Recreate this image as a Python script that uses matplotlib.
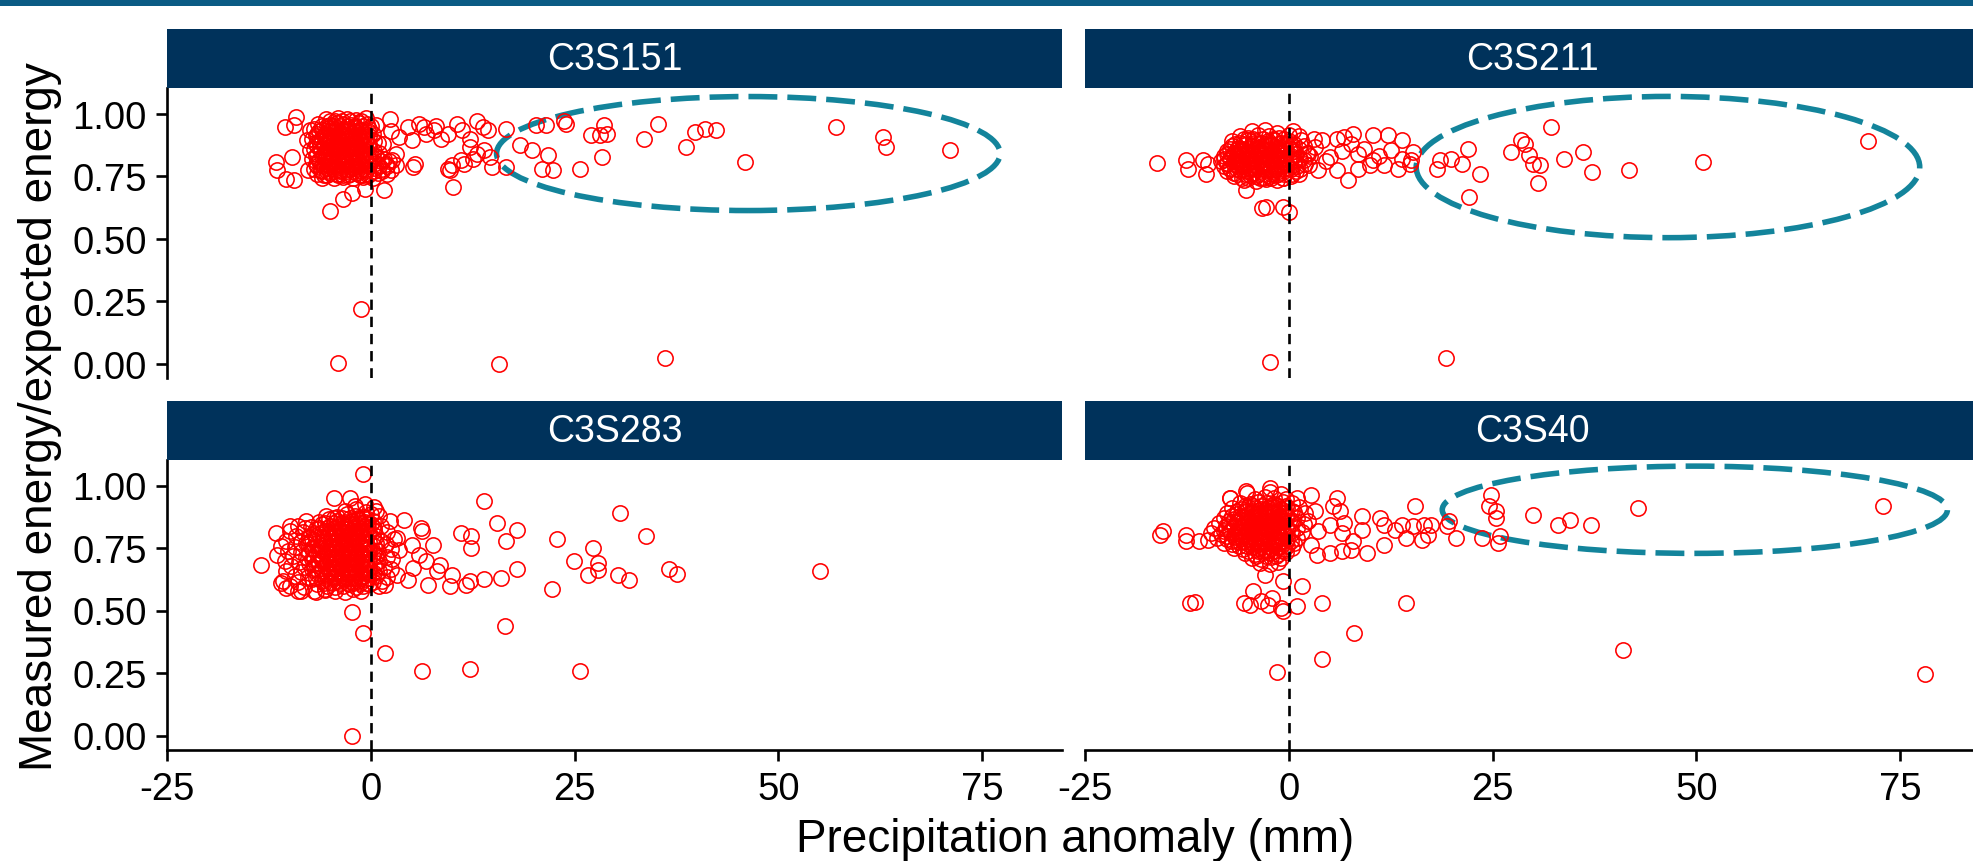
import numpy as np
import matplotlib
matplotlib.use('Agg')
import matplotlib.pyplot as plt
from matplotlib.patches import Ellipse, Rectangle

plt.rcParams['font.family'] = ['Liberation Sans', 'DejaVu Sans']

# ---- data: (precip anomaly mm, measured/expected energy) ----
stations = ["C3S151", "C3S211", "C3S283", "C3S40"]

c3s151_core = [
    (-5.5, 0.98), (-4.0, 0.985), (-3.0, 0.98), (-1.8, 0.975), (-0.6, 0.985),
    (-6.5, 0.96), (-5.0, 0.955), (-4.2, 0.965), (-3.4, 0.96), (-2.5, 0.955), (-1.5, 0.965), (-0.5, 0.96), (0.6, 0.955),
    (-7.0, 0.94), (-6.0, 0.935), (-5.2, 0.945), (-4.4, 0.94), (-3.6, 0.935), (-2.8, 0.94), (-2.0, 0.945), (-1.2, 0.935), (-0.3, 0.94),
    (-6.6, 0.92), (-5.6, 0.915), (-4.8, 0.925), (-4.0, 0.92), (-3.2, 0.915), (-2.4, 0.92), (-1.6, 0.925), (-0.8, 0.915), (0.2, 0.92),
    (-7.2, 0.90), (-6.2, 0.895), (-5.4, 0.905), (-4.6, 0.90), (-3.8, 0.895), (-3.0, 0.90), (-2.2, 0.905), (-1.4, 0.895), (-0.6, 0.90),
    (-6.8, 0.88), (-5.8, 0.875), (-5.0, 0.885), (-4.2, 0.88), (-3.4, 0.875), (-2.6, 0.88), (-1.8, 0.885), (-1.0, 0.875), (-0.2, 0.88), (0.8, 0.885),
    (-7.0, 0.86), (-6.2, 0.855), (-5.4, 0.865), (-4.6, 0.86), (-3.8, 0.855), (-3.0, 0.86), (-2.2, 0.865), (-1.4, 0.855), (-0.6, 0.86),
    (-6.6, 0.84), (-5.8, 0.835), (-5.0, 0.845), (-4.2, 0.84), (-3.4, 0.835), (-2.6, 0.84), (-1.8, 0.845), (-1.0, 0.835), (-0.2, 0.84), (1.0, 0.845),
    (-7.2, 0.82), (-6.4, 0.815), (-5.6, 0.825), (-4.8, 0.82), (-4.0, 0.815), (-3.2, 0.82), (-2.4, 0.825), (-1.6, 0.815), (-0.8, 0.82), (0.2, 0.825), (1.6, 0.82), (2.6, 0.815),
    (-6.8, 0.80), (-6.0, 0.795), (-5.2, 0.805), (-4.4, 0.80), (-3.6, 0.795), (-2.8, 0.80), (-2.0, 0.805), (-1.2, 0.795), (-0.4, 0.80), (0.6, 0.805), (1.8, 0.80), (3.0, 0.795),
    (-7.0, 0.78), (-6.2, 0.775), (-5.4, 0.785), (-4.6, 0.78), (-3.8, 0.775), (-3.0, 0.78), (-2.2, 0.785), (-1.4, 0.775), (-0.6, 0.78), (0.4, 0.785), (1.4, 0.78), (2.4, 0.775),
    (-6.6, 0.76), (-5.8, 0.755), (-5.0, 0.765), (-4.2, 0.76), (-3.4, 0.755), (-2.6, 0.76), (-1.8, 0.765), (-1.0, 0.755), (-0.2, 0.76), (0.8, 0.765), (2.0, 0.76),
    (-6.0, 0.745), (-4.6, 0.742), (-3.4, 0.748), (-2.2, 0.744), (-1.0, 0.746), (0.2, 0.742),
]
# extra overlapping points inside the solid core: (y, [x, ...])
c3s151_fill = [
    (0.97, [-5.0, -4.4, -3.6, -2.6, -1.2]),
    (0.95, [-6.0, -5.4, -4.6, -3.8, -3.0, -2.0, -1.0, 0.0]),
    (0.93, [-6.4, -5.2, -4.4, -3.6, -2.8, -2.0, -1.2, -0.4]),
    (0.91, [-6.8, -5.8, -5.0, -4.2, -3.4, -2.6, -1.8, -1.0, -0.2]),
    (0.89, [-6.4, -5.4, -4.6, -3.8, -3.0, -2.2, -1.4, -0.6, 0.3]),
    (0.87, [-6.6, -5.8, -5.0, -4.2, -3.4, -2.6, -1.8, -1.0, -0.2]),
    (0.85, [-6.2, -5.4, -4.6, -3.8, -3.0, -2.2, -1.4, -0.6, 0.4]),
    (0.83, [-6.8, -6.0, -5.2, -4.4, -3.6, -2.8, -2.0, -1.2, -0.4, 0.6]),
    (0.81, [-6.4, -5.6, -4.8, -4.0, -3.2, -2.4, -1.6, -0.8, 0.0, 1.2, 2.2]),
    (0.79, [-6.6, -5.8, -5.0, -4.2, -3.4, -2.6, -1.8, -1.0, -0.2, 1.0, 2.0]),
    (0.77, [-6.2, -5.4, -4.6, -3.8, -3.0, -2.2, -1.4, -0.6, 0.4, 1.4]),
    (0.755, [-5.4, -4.0, -2.8, -1.4, -0.4]),
]
c3s151_spread = [
    (-4.0, 0.005), (15.7, 0.0), (36.1, 0.025), (-1.2, 0.22),
    (-5.0, 0.61), (-3.4, 0.66), (-2.3, 0.685), (-0.7, 0.70), (1.6, 0.695), (10.1, 0.706),
    (-11.7, 0.808), (-11.5, 0.775), (-10.4, 0.741), (-9.5, 0.735), (-9.7, 0.828), (-10.6, 0.947),
    (-9.2, 0.987), (-9.5, 0.954), (-7.5, 0.934), (-7.9, 0.894), (-7.7, 0.775), (-7.5, 0.854),
    (2.3, 0.98), (3.4, 0.907), (4.5, 0.947), (5.9, 0.96), (6.5, 0.947), (5.0, 0.894), (7.7, 0.934),
    (8.55, 0.90), (9.4, 0.92), (10.55, 0.96), (11.2, 0.934), (12.1, 0.90), (13.0, 0.973), (13.7, 0.947),
    (14.3, 0.934), (12.1, 0.867), (13.0, 0.841), (13.9, 0.854), (14.55, 0.828), (14.8, 0.788),
    (12.55, 0.821), (11.0, 0.815), (9.9, 0.795), (9.4, 0.781), (9.65, 0.775), (11.4, 0.801),
    (5.4, 0.801), (5.2, 0.788), (2.5, 0.93), (1.5, 0.88), (3.0, 0.84), (6.8, 0.92), (8.0, 0.95),
    (16.55, 0.94), (16.55, 0.788), (18.3, 0.874), (19.7, 0.854), (20.3, 0.954), (21.45, 0.954),
    (21.7, 0.834), (21.0, 0.781), (22.3, 0.775), (23.7, 0.973), (23.9, 0.96), (25.7, 0.781),
    (27.0, 0.914), (28.1, 0.914), (29.0, 0.92), (28.6, 0.954), (28.3, 0.828), (33.5, 0.90),
    (35.2, 0.96), (38.6, 0.867), (39.7, 0.927), (41.0, 0.94), (42.35, 0.934), (45.9, 0.808),
    (57.1, 0.947), (62.8, 0.907), (63.2, 0.867), (71.1, 0.854),
]

c3s211_core = [
    (-4.5, 0.93), (-3.0, 0.935), (-1.5, 0.925), (0.5, 0.93),
    (-6.0, 0.91), (-5.0, 0.905), (-3.8, 0.915), (-2.5, 0.91), (-1.2, 0.905), (0.0, 0.915), (1.2, 0.91),
    (-7.0, 0.89), (-6.0, 0.885), (-5.0, 0.895), (-4.2, 0.89), (-3.4, 0.885), (-2.6, 0.89), (-1.8, 0.895), (-1.0, 0.885), (0.0, 0.89), (1.5, 0.895),
    (-7.0, 0.87), (-6.2, 0.865), (-5.4, 0.875), (-4.6, 0.87), (-3.8, 0.865), (-3.0, 0.87), (-2.2, 0.875), (-1.4, 0.865), (-0.6, 0.87), (0.4, 0.875), (1.8, 0.87),
    (-7.6, 0.85), (-6.8, 0.845), (-6.0, 0.855), (-5.2, 0.85), (-4.4, 0.845), (-3.6, 0.85), (-2.8, 0.855), (-2.0, 0.845), (-1.2, 0.85), (-0.4, 0.855), (0.6, 0.85), (2.2, 0.845),
    (-8.0, 0.83), (-7.2, 0.825), (-6.4, 0.835), (-5.6, 0.83), (-4.8, 0.825), (-4.0, 0.83), (-3.2, 0.835), (-2.4, 0.825), (-1.6, 0.83), (-0.8, 0.835), (0.2, 0.83), (1.2, 0.825), (2.6, 0.83),
    (-8.4, 0.81), (-7.6, 0.805), (-6.8, 0.815), (-6.0, 0.81), (-5.2, 0.805), (-4.4, 0.81), (-3.6, 0.815), (-2.8, 0.805), (-2.0, 0.81), (-1.2, 0.815), (-0.4, 0.805), (0.6, 0.81), (1.8, 0.815),
    (-8.0, 0.79), (-7.2, 0.785), (-6.4, 0.795), (-5.6, 0.79), (-4.8, 0.785), (-4.0, 0.79), (-3.2, 0.795), (-2.4, 0.785), (-1.6, 0.79), (-0.8, 0.795), (0.0, 0.785), (1.0, 0.79), (2.4, 0.795),
    (-7.6, 0.77), (-6.8, 0.765), (-6.0, 0.775), (-5.2, 0.77), (-4.4, 0.765), (-3.6, 0.77), (-2.8, 0.775), (-2.0, 0.765), (-1.2, 0.77), (-0.4, 0.775), (0.8, 0.77),
    (-6.8, 0.75), (-5.8, 0.745), (-4.8, 0.755), (-4.0, 0.75), (-3.2, 0.745), (-2.4, 0.75), (-1.6, 0.755), (-0.8, 0.745), (0.2, 0.75),
    (-5.5, 0.735), (-4.0, 0.732), (-2.8, 0.738), (-1.5, 0.734),
]
c3s211_fill = [
    (0.90, [-5.5, -4.4, -3.2, -2.0, -0.6]),
    (0.88, [-6.6, -5.6, -4.6, -3.8, -3.0, -2.2, -1.4, -0.6, 0.6]),
    (0.86, [-7.2, -6.4, -5.6, -4.8, -4.0, -3.2, -2.4, -1.6, -0.8, 0.2, 1.2]),
    (0.84, [-7.6, -6.8, -6.0, -5.2, -4.4, -3.6, -2.8, -2.0, -1.2, -0.4, 0.8]),
    (0.82, [-8.0, -7.2, -6.4, -5.6, -4.8, -4.0, -3.2, -2.4, -1.6, -0.8, 0.2, 1.4]),
    (0.80, [-7.6, -6.8, -6.0, -5.2, -4.4, -3.6, -2.8, -2.0, -1.2, -0.4, 0.6]),
    (0.78, [-7.2, -6.4, -5.6, -4.8, -4.0, -3.2, -2.4, -1.6, -0.8, 0.2, 1.4]),
    (0.76, [-6.4, -5.4, -4.6, -3.8, -3.0, -2.2, -1.4, -0.6, 0.4]),
    (0.745, [-5.0, -3.6, -2.2, -0.8]),
]
c3s211_spread = [
    (-16.2, 0.805), (-12.6, 0.814), (-12.4, 0.781), (-10.6, 0.814), (-10.2, 0.761), (-9.9, 0.801),
    (-5.3, 0.695), (-3.3, 0.622), (-2.8, 0.629), (-0.8, 0.629), (0.0, 0.609),
    (4.1, 0.894), (5.9, 0.90), (6.75, 0.907), (7.9, 0.92), (7.6, 0.88), (10.3, 0.914), (12.1, 0.914),
    (13.9, 0.894), (8.5, 0.841), (10.3, 0.815), (12.5, 0.854), (13.9, 0.821), (15.2, 0.848), (15.0, 0.815),
    (7.2, 0.735), (5.9, 0.775), (3.6, 0.775), (8.5, 0.781), (9.9, 0.795), (11.6, 0.795), (13.4, 0.781),
    (2.3, 0.841), (5.0, 0.828), (3.2, 0.867), (1.9, 0.801), (4.5, 0.81), (6.5, 0.85), (9.2, 0.86),
    (11.0, 0.83), (3.0, 0.90), (1.2, 0.76), (14.8, 0.80),
    (18.1, 0.781), (18.5, 0.815), (19.9, 0.821), (21.2, 0.801), (21.9, 0.861), (23.4, 0.761), (22.1, 0.669),
    (27.2, 0.848), (28.5, 0.894), (29.0, 0.881), (29.4, 0.834), (29.9, 0.801), (30.8, 0.795), (30.5, 0.722),
    (32.1, 0.947), (33.7, 0.821), (36.1, 0.848), (37.2, 0.768), (41.7, 0.777), (50.8, 0.808), (71.0, 0.89),
    (-2.3, 0.006), (19.3, 0.022),
]

c3s283_core = [
    (-2.0, 0.92), (-0.8, 0.925), (0.4, 0.915),
    (-3.2, 0.90), (-1.8, 0.905), (-0.6, 0.895), (0.6, 0.90),
    (-5.5, 0.88), (-4.2, 0.875), (-3.0, 0.885), (-2.0, 0.88), (-1.0, 0.875), (0.0, 0.885), (1.0, 0.88),
    (-8.0, 0.86), (-6.4, 0.855), (-5.2, 0.865), (-4.2, 0.86), (-3.2, 0.855), (-2.4, 0.86), (-1.6, 0.865), (-0.8, 0.855), (0.2, 0.86),
    (-9.0, 0.84), (-7.4, 0.835), (-6.0, 0.845), (-5.0, 0.84), (-4.0, 0.835), (-3.2, 0.84), (-2.4, 0.845), (-1.6, 0.835), (-0.8, 0.84), (0.0, 0.845), (1.2, 0.84),
    (-10.0, 0.82), (-8.4, 0.815), (-6.8, 0.825), (-5.6, 0.82), (-4.6, 0.815), (-3.8, 0.82), (-3.0, 0.825), (-2.2, 0.815), (-1.4, 0.82), (-0.6, 0.825), (0.4, 0.82), (2.0, 0.815),
    (-9.2, 0.80), (-7.6, 0.795), (-6.4, 0.805), (-5.4, 0.80), (-4.4, 0.795), (-3.6, 0.80), (-2.8, 0.805), (-2.0, 0.795), (-1.2, 0.80), (-0.4, 0.805), (0.6, 0.80),
    (-10.4, 0.78), (-8.6, 0.775), (-7.2, 0.785), (-6.0, 0.78), (-5.0, 0.775), (-4.2, 0.78), (-3.4, 0.785), (-2.6, 0.775), (-1.8, 0.78), (-1.0, 0.785), (-0.2, 0.775), (1.2, 0.78), (2.8, 0.785),
    (-11.0, 0.76), (-9.4, 0.755), (-7.8, 0.765), (-6.6, 0.76), (-5.6, 0.755), (-4.6, 0.76), (-3.8, 0.765), (-3.0, 0.755), (-2.2, 0.76), (-1.4, 0.765), (-0.6, 0.755), (0.4, 0.76), (1.8, 0.765),
    (-10.2, 0.74), (-8.6, 0.735), (-7.2, 0.745), (-6.0, 0.74), (-5.0, 0.735), (-4.2, 0.74), (-3.4, 0.745), (-2.6, 0.735), (-1.8, 0.74), (-1.0, 0.745), (-0.2, 0.735), (0.8, 0.74), (2.4, 0.745),
    (-9.6, 0.72), (-8.0, 0.715), (-6.6, 0.725), (-5.4, 0.72), (-4.4, 0.715), (-3.6, 0.72), (-2.8, 0.725), (-2.0, 0.715), (-1.2, 0.72), (-0.4, 0.725), (0.6, 0.72), (2.0, 0.715),
    (-10.6, 0.70), (-8.8, 0.695), (-7.2, 0.705), (-6.0, 0.70), (-5.0, 0.695), (-4.2, 0.70), (-3.4, 0.705), (-2.6, 0.695), (-1.8, 0.70), (-1.0, 0.705), (-0.2, 0.695), (1.0, 0.70), (2.6, 0.705),
    (-9.8, 0.68), (-8.2, 0.675), (-6.8, 0.685), (-5.6, 0.68), (-4.6, 0.675), (-3.8, 0.68), (-3.0, 0.685), (-2.2, 0.675), (-1.4, 0.68), (-0.6, 0.685), (0.4, 0.68), (1.6, 0.675),
    (-10.4, 0.66), (-8.6, 0.655), (-7.2, 0.665), (-6.0, 0.66), (-5.0, 0.655), (-4.2, 0.66), (-3.4, 0.665), (-2.6, 0.655), (-1.8, 0.66), (-1.0, 0.665), (-0.2, 0.655), (1.0, 0.66), (2.4, 0.665),
    (-9.4, 0.64), (-7.8, 0.635), (-6.6, 0.645), (-5.4, 0.64), (-4.4, 0.635), (-3.6, 0.64), (-2.8, 0.645), (-2.0, 0.635), (-1.2, 0.64), (-0.4, 0.645), (0.6, 0.64), (2.0, 0.635),
    (-10.8, 0.62), (-9.0, 0.615), (-7.2, 0.625), (-6.0, 0.62), (-5.0, 0.615), (-4.0, 0.62), (-3.2, 0.625), (-2.4, 0.615), (-1.6, 0.62), (-0.8, 0.625), (0.2, 0.615), (1.4, 0.62),
    (-10.0, 0.60), (-8.2, 0.595), (-6.6, 0.605), (-5.4, 0.60), (-4.4, 0.595), (-3.4, 0.60), (-2.6, 0.605), (-1.8, 0.595), (-1.0, 0.60), (-0.2, 0.605), (1.0, 0.60),
    (-8.6, 0.58), (-6.8, 0.575), (-5.6, 0.585), (-4.4, 0.58), (-3.2, 0.575), (-2.2, 0.585), (-1.2, 0.58),
]
c3s283_fill = [
    (0.87, [-4.6, -3.6, -2.6, -1.6, -0.6]),
    (0.85, [-5.6, -4.6, -3.6, -2.8, -2.0, -1.2, -0.4]),
    (0.83, [-6.4, -5.4, -4.4, -3.6, -2.8, -2.0, -1.2, -0.4, 0.4]),
    (0.81, [-7.0, -6.0, -5.0, -4.2, -3.4, -2.6, -1.8, -1.0, -0.2]),
    (0.79, [-7.6, -6.8, -5.8, -4.8, -4.0, -3.2, -2.4, -1.6, -0.8, 0.2]),
    (0.77, [-8.0, -6.6, -5.4, -4.6, -3.8, -3.0, -2.2, -1.4, -0.6, 0.6]),
    (0.75, [-7.2, -6.0, -5.0, -4.2, -3.4, -2.6, -1.8, -1.0, -0.2]),
    (0.73, [-7.6, -6.4, -5.4, -4.6, -3.8, -3.0, -2.2, -1.4, -0.6, 0.4]),
    (0.71, [-7.0, -6.0, -5.0, -4.2, -3.4, -2.6, -1.8, -1.0, -0.2]),
    (0.69, [-7.6, -6.4, -5.4, -4.6, -3.8, -3.0, -2.2, -1.4, -0.6, 0.6]),
    (0.67, [-7.0, -6.0, -5.0, -4.2, -3.4, -2.6, -1.8, -1.0, -0.2]),
    (0.65, [-6.4, -5.4, -4.6, -3.8, -3.0, -2.2, -1.4, -0.6, 0.4]),
    (0.63, [-6.8, -5.6, -4.6, -3.6, -2.8, -2.0, -1.2, -0.4]),
    (0.61, [-5.8, -4.8, -3.8, -3.0, -2.2, -1.4, -0.6]),
]
c3s283_spread = [
    (-1.0, 1.047), (-4.5, 0.951), (-2.6, 0.951), (-13.5, 0.684), (-11.7, 0.811), (-9.9, 0.837),
    (-8.1, 0.831), (-11.5, 0.724), (-11.0, 0.611), (-10.4, 0.591), (-9.0, 0.577), (-7.0, 0.577), (-5.7, 0.584),
    (2.3, 0.857), (4.1, 0.864), (6.1, 0.831), (6.3, 0.817), (7.65, 0.764), (5.0, 0.764), (3.2, 0.791),
    (3.4, 0.744), (5.9, 0.724), (8.5, 0.684), (8.1, 0.657), (9.9, 0.644), (7.0, 0.604), (9.7, 0.597),
    (11.7, 0.604), (12.1, 0.617), (4.5, 0.624), (3.2, 0.644), (1.65, 0.604), (5.2, 0.671), (6.8, 0.697),
    (11.0, 0.811), (12.3, 0.797), (12.3, 0.751), (13.9, 0.937), (15.4, 0.851), (17.9, 0.824),
    (16.5, 0.777), (17.9, 0.668), (15.9, 0.631), (13.9, 0.628), (16.4, 0.437),
    (22.8, 0.788), (22.25, 0.588), (24.9, 0.697), (27.2, 0.751), (27.8, 0.691), (27.9, 0.664),
    (26.6, 0.644), (30.35, 0.644), (30.6, 0.891), (31.7, 0.624), (33.7, 0.797), (36.6, 0.668),
    (37.5, 0.647), (55.1, 0.657),
    (-2.35, 0.493), (-1.0, 0.411), (1.7, 0.331), (6.2, 0.257), (12.1, 0.267), (25.6, 0.257), (-2.3, -0.003),
]

c3s40_core = [
    (-5.2, 0.97), (-2.4, 0.975), (-1.0, 0.965),
    (-7.2, 0.95), (-4.2, 0.945), (-3.0, 0.955), (-1.8, 0.95), (-0.4, 0.945), (1.0, 0.95),
    (-6.0, 0.93), (-4.8, 0.925), (-3.8, 0.935), (-2.8, 0.93), (-1.8, 0.925), (-0.8, 0.935), (0.4, 0.93),
    (-7.0, 0.91), (-5.8, 0.905), (-5.0, 0.915), (-4.2, 0.91), (-3.4, 0.905), (-2.6, 0.91), (-1.8, 0.915), (-1.0, 0.905), (-0.2, 0.91), (1.2, 0.915),
    (-7.6, 0.89), (-6.4, 0.885), (-5.4, 0.895), (-4.6, 0.89), (-3.8, 0.885), (-3.0, 0.89), (-2.2, 0.895), (-1.4, 0.885), (-0.6, 0.89), (0.6, 0.895), (2.0, 0.89),
    (-8.0, 0.87), (-6.8, 0.865), (-5.8, 0.875), (-5.0, 0.87), (-4.2, 0.865), (-3.4, 0.87), (-2.6, 0.875), (-1.8, 0.865), (-1.0, 0.87), (-0.2, 0.875), (1.0, 0.87),
    (-8.6, 0.85), (-7.4, 0.845), (-6.4, 0.855), (-5.4, 0.85), (-4.6, 0.845), (-3.8, 0.85), (-3.0, 0.855), (-2.2, 0.845), (-1.4, 0.85), (-0.6, 0.855), (0.4, 0.85), (1.8, 0.845),
    (-9.2, 0.83), (-7.8, 0.825), (-6.8, 0.835), (-5.8, 0.83), (-5.0, 0.825), (-4.2, 0.83), (-3.4, 0.835), (-2.6, 0.825), (-1.8, 0.83), (-1.0, 0.835), (-0.2, 0.825), (1.0, 0.83),
    (-9.6, 0.81), (-8.4, 0.805), (-7.2, 0.815), (-6.2, 0.81), (-5.4, 0.805), (-4.6, 0.81), (-3.8, 0.815), (-3.0, 0.805), (-2.2, 0.81), (-1.4, 0.815), (-0.6, 0.805), (0.4, 0.81), (1.6, 0.815),
    (-8.8, 0.79), (-7.6, 0.785), (-6.6, 0.795), (-5.8, 0.79), (-5.0, 0.785), (-4.2, 0.79), (-3.4, 0.795), (-2.6, 0.785), (-1.8, 0.79), (-1.0, 0.795), (-0.2, 0.785), (1.0, 0.79),
    (-8.0, 0.77), (-7.0, 0.765), (-6.0, 0.775), (-5.2, 0.77), (-4.4, 0.765), (-3.6, 0.77), (-2.8, 0.775), (-2.0, 0.765), (-1.2, 0.77), (-0.4, 0.775), (0.6, 0.77),
    (-6.8, 0.75), (-5.6, 0.745), (-4.6, 0.755), (-3.8, 0.75), (-3.0, 0.745), (-2.2, 0.75), (-1.4, 0.755), (-0.6, 0.745), (0.4, 0.75),
    (-5.4, 0.73), (-4.2, 0.725), (-3.2, 0.735), (-2.4, 0.73), (-1.4, 0.725), (-0.4, 0.735),
    (-4.6, 0.71), (-3.4, 0.705), (-2.2, 0.715), (-1.0, 0.71),
    (-3.6, 0.69), (-2.4, 0.685), (-1.4, 0.695),
]
c3s40_fill = [
    (0.92, [-5.4, -4.4, -3.4, -2.4, -1.4, -0.4]),
    (0.90, [-6.4, -5.4, -4.6, -3.8, -3.0, -2.2, -1.4, -0.6, 0.4]),
    (0.88, [-7.0, -6.0, -5.2, -4.4, -3.6, -2.8, -2.0, -1.2, -0.4]),
    (0.86, [-7.4, -6.4, -5.6, -4.8, -4.0, -3.2, -2.4, -1.6, -0.8, 0.2]),
    (0.84, [-7.8, -6.8, -6.0, -5.2, -4.4, -3.6, -2.8, -2.0, -1.2, -0.4]),
    (0.82, [-8.0, -7.2, -6.4, -5.6, -4.8, -4.0, -3.2, -2.4, -1.6, -0.8, 0.2]),
    (0.80, [-7.6, -6.8, -6.0, -5.2, -4.4, -3.6, -2.8, -2.0, -1.2, -0.4]),
    (0.78, [-7.0, -6.4, -5.6, -4.8, -4.0, -3.2, -2.4, -1.6, -0.8, 0.2]),
    (0.76, [-6.2, -5.2, -4.2, -3.4, -2.6, -1.8, -1.0, -0.2]),
    (0.74, [-5.0, -3.8, -2.8, -1.8, -0.8]),
    (0.72, [-4.0, -2.8, -1.6]),
]
c3s40_spread = [
    (-15.9, 0.804), (-15.5, 0.817), (-12.6, 0.777), (-12.6, 0.804), (-11.05, 0.777), (-9.9, 0.784),
    (-12.2, 0.531), (-11.5, 0.535), (-7.3, 0.951), (-5.3, 0.977), (-2.4, 0.99),
    (-3.0, 0.644), (-4.4, 0.577), (-0.8, 0.617), (1.6, 0.597), (-5.5, 0.531), (-4.8, 0.524), (-3.5, 0.537),
    (-2.6, 0.524), (-1.0, 0.511), (-0.8, 0.497), (1.0, 0.517), (-2.15, 0.551), (4.1, 0.531), (14.3, 0.531),
    (2.7, 0.964), (5.9, 0.951), (5.4, 0.917), (6.3, 0.897), (3.2, 0.897), (2.3, 0.857), (3.6, 0.817),
    (5.0, 0.844), (6.75, 0.851), (6.5, 0.811), (9.0, 0.877), (9.0, 0.824), (11.2, 0.871), (11.6, 0.844),
    (13.0, 0.824), (11.6, 0.764), (9.6, 0.731), (7.6, 0.744), (6.5, 0.737), (5.0, 0.731), (3.4, 0.724),
    (2.7, 0.764), (7.9, 0.777), (14.3, 0.791), (13.9, 0.844), (15.4, 0.917), (15.2, 0.837), (16.5, 0.844),
    (17.0, 0.804), (16.3, 0.784), (17.4, 0.844), (19.4, 0.837), (20.5, 0.791), (19.6, 0.857),
    (23.65, 0.791), (24.8, 0.964), (24.5, 0.917), (25.4, 0.897), (25.4, 0.871), (25.9, 0.797), (25.7, 0.771),
    (29.9, 0.884), (33.0, 0.844), (34.5, 0.864), (37.0, 0.844), (42.8, 0.911), (72.9, 0.92),
    (41.0, 0.341), (78.0, 0.248), (4.1, 0.307), (-1.5, 0.253), (8.0, 0.411),
]


def rows_to_points(rows):
    return [(x, y) for y, xs in rows for x in xs]


panel_points = {
    "C3S151": c3s151_core + rows_to_points(c3s151_fill) + c3s151_spread,
    "C3S211": c3s211_core + rows_to_points(c3s211_fill) + c3s211_spread,
    "C3S283": c3s283_core + rows_to_points(c3s283_fill) + c3s283_spread,
    "C3S40": c3s40_core + rows_to_points(c3s40_fill) + c3s40_spread,
}

# highlighted groups: (centre x, centre y, width, height)
highlight = {
    "C3S151": (46.3, 0.841, 61.8, 0.456),
    "C3S211": (46.5, 0.787, 61.8, 0.565),
    "C3S40": (49.8, 0.903, 62.0, 0.349),
}

x_ticks = [-25, 0, 25, 50, 75]
y_ticks = [0.00, 0.25, 0.50, 0.75, 1.00]

# ---- layout (pixels of a 1974 x 862 canvas) ----
W, H = 1974, 862
fig = plt.figure(figsize=(W / 100, H / 100), dpi=100)

strip_col = "#00325b"
ring_col = "#13849b"

# thin banner across the top
fig.patches.append(Rectangle((0, 1 - 7 / H), 1, 7 / H, transform=fig.transFigure,
                             facecolor="#0b5b84", edgecolor="none"))

col_left = [167.4, 1085.4]
panel_w = 894.6
row_top = [89.3, 461.0]
panel_h = 290.0
strip_h = 59.0

for i, name in enumerate(stations):
    r, c = divmod(i, 2)
    x0 = col_left[c] / W
    y0 = 1 - (row_top[r] + panel_h) / H
    ax = fig.add_axes([x0, y0, panel_w / W, panel_h / H])

    pts = np.array(panel_points[name])
    ax.plot(pts[:, 0], pts[:, 1], linestyle="none", marker="o", markersize=11,
            markerfacecolor="none", markeredgecolor="#ff0000", markeredgewidth=1.15)
    ax.axvline(0, color="black", linestyle=(0, (3.9, 2.6)), linewidth=1.9)

    if name in highlight:
        cx, cy, ew, eh = highlight[name]
        ax.add_patch(Ellipse((cx, cy), ew, eh, fill=False, edgecolor=ring_col,
                             linewidth=4.0, linestyle=(0, (5.2, 1.8))))

    ax.set_xlim(-25, 84.8)
    ax.set_ylim(-0.058, 1.102)
    ax.set_xticks(x_ticks)
    ax.set_yticks(y_ticks)
    ax.set_xticklabels([str(t) for t in x_ticks])
    ax.set_yticklabels([f"{t:.2f}" for t in y_ticks])
    for s in ax.spines.values():
        s.set_visible(False)
        s.set_linewidth(1.9)
    ax.tick_params(length=8, width=1.9, pad=7, labelsize=27.5, colors="black")
    if c == 0:
        ax.spines["left"].set_visible(True)
    else:
        ax.tick_params(axis="y", left=False, labelleft=False)
    if r == 1:
        ax.spines["bottom"].set_visible(True)
    else:
        ax.tick_params(axis="x", bottom=False, labelbottom=False)

    # facet strip
    sax = fig.add_axes([x0, 1 - row_top[r] / H, panel_w / W, strip_h / H])
    sax.set_facecolor(strip_col)
    sax.set_xticks([])
    sax.set_yticks([])
    for s in sax.spines.values():
        s.set_visible(False)
    sax.text(0.5, 0.5, name, transform=sax.transAxes, ha="center", va="center",
             color="white", fontsize=27)

fig.text(40 / W, 1 - 417 / H, "Measured energy/expected energy", rotation=90,
         ha="center", va="center", fontsize=33)
fig.text(1075 / W, 1 - 852 / H, "Precipitation anomaly (mm)", ha="center",
         va="baseline", fontsize=33)

fig.savefig("out.png", dpi=100, facecolor="white")
plt.close(fig)
